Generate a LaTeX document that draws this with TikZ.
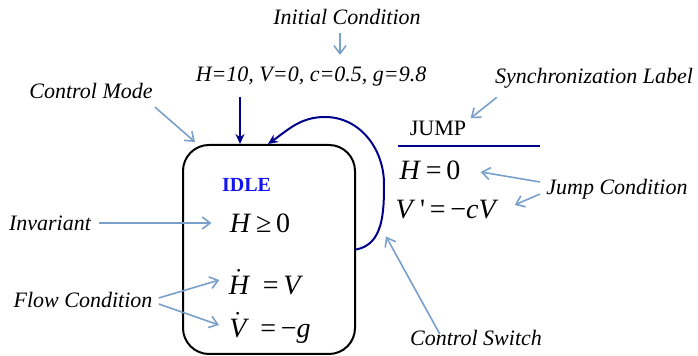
\documentclass[tikz,border=0pt]{standalone}
\usepackage{fontspec}
\setmainfont{Liberation Serif}
\usepackage{xcolor}
\definecolor{hablue}{RGB}{120,160,202}
\definecolor{hanavy}{RGB}{0,0,140}
\definecolor{haidle}{RGB}{20,20,240}
\usetikzlibrary{arrows.meta, positioning}
\newcommand{\dotvar}[1]{$\dot{\hbox{\itshape #1}}$}

\begin{document}
\begin{tikzpicture}[x=0.5pt, y=0.5pt,
    every node/.style={font=\fontsize{11}{13}\selectfont, inner sep=1pt},
    lbl/.style={font=\fontsize{11}{13}\selectfont\itshape},
    eqn/.style={font=\fontsize{14}{16}\selectfont},
    modebox/.style={draw, line width=1pt, rounded corners=13pt,
                    minimum width=86pt, minimum height=104.5pt},
    hint/.style={-{Straight Barb[length=4pt,width=6pt]}, hablue, line width=0.8pt},
    arr/.style={-{Stealth[length=5pt,width=4.5pt]}, hanavy, line width=1pt},
]
\useasboundingbox (0,0) rectangle (698,356);

% ===== control mode box =====
\node[modebox] (box) at (269,106.5) {};
\node[font=\fontsize{10}{12}\selectfont\bfseries, text=haidle] (idle) at (246.5,171) {IDLE};
\node[eqn] (inv) at (260,133) {\textit{H}\,≥\,0};
\node[eqn] (flowh) at (266,74) {\dotvar{H}\ \ =\,\textit{V}};
\node[eqn] (flowv) at (270,28) {\dotvar{V}\ \ =\,−\textit{g}};

% ===== labels =====
\node[lbl] (init) at (347,339) {Initial Condition};
\node[lbl] (vals) at (311,279) {H=10, V=0, c=0.5, g=9.8};
\node[lbl] (cmode) at (91,265) {Control Mode};
\node[lbl] (invlbl) at (50,133) {Invariant};
\node[lbl] (flowlbl) at (83,56) {Flow Condition};
\node[lbl] (synclbl) at (594,278) {Synchronization Label};
\node[lbl] (jumplbl) at (617,167) {Jump Condition};
\node[lbl] (switchlbl) at (476,18) {Control Switch};

% ===== jump =====
\node (jump) at (438,228) {JUMP};
\coordinate (barl) at (398,210);
\coordinate (barr) at (540,210);
\node[eqn] (guard) at (430,186) {\textit{H}\,=\,0};
\node[eqn] (reset) at (447,146) {\textit{V}\,\textquotesingle\,=\,−\textit{cV}};

% control switch (self loop)
\coordinate (loopr) at (384,172);
\coordinate (loopt) at (325,239);
\draw[arr] (box.east) to[out=10,in=-90] (loopr) to[out=90,in=0] (loopt)
      to[out=180,in=35] ([xshift=-0.5pt]box.north);
\draw[arr] ([xshift=-35.5pt,yshift=-4pt]vals.south) -- ([xshift=-14.5pt]box.north);
\draw[hanavy, line width=1pt] (barl) -- (barr);

% hint arrows
\draw[hint] ([xshift=-3.5pt,yshift=-3pt]init.south) -- ([xshift=14.5pt,yshift=5pt]vals.north);
\draw[hint] ([yshift=-3pt]cmode.south east) -- ([shift={(6.5pt,1pt)}]box.north west);
\draw[hint] ([xshift=3pt]invlbl.east) -- ([xshift=-8pt]inv.west);
\draw[hint] ([shift={(2pt,1pt)}]flowlbl.east) -- ([shift={(-3.5pt,1pt)}]flowh.west);
\draw[hint] ([shift={(2pt,-2pt)}]flowlbl.east) -- ([shift={(-4pt,1.5pt)}]flowv.west);
\draw[hint] ([shift={(2pt,-3.5pt)}]synclbl.south west) -- ([xshift=1pt]jump.north east);
\draw[hint] ([shift={(-2pt,3.5pt)}]jumplbl.west) -- ([shift={(9pt,-1pt)}]guard.east);
\draw[hint] ([shift={(-2pt,-2.5pt)}]jumplbl.west) -- ([shift={(7pt,2.5pt)}]reset.east);
\draw[hint] ([shift={(16pt,-3pt)}]switchlbl.north west) -- ([shift={(15pt,6.5pt)}]box.east);

\end{tikzpicture}
\end{document}
